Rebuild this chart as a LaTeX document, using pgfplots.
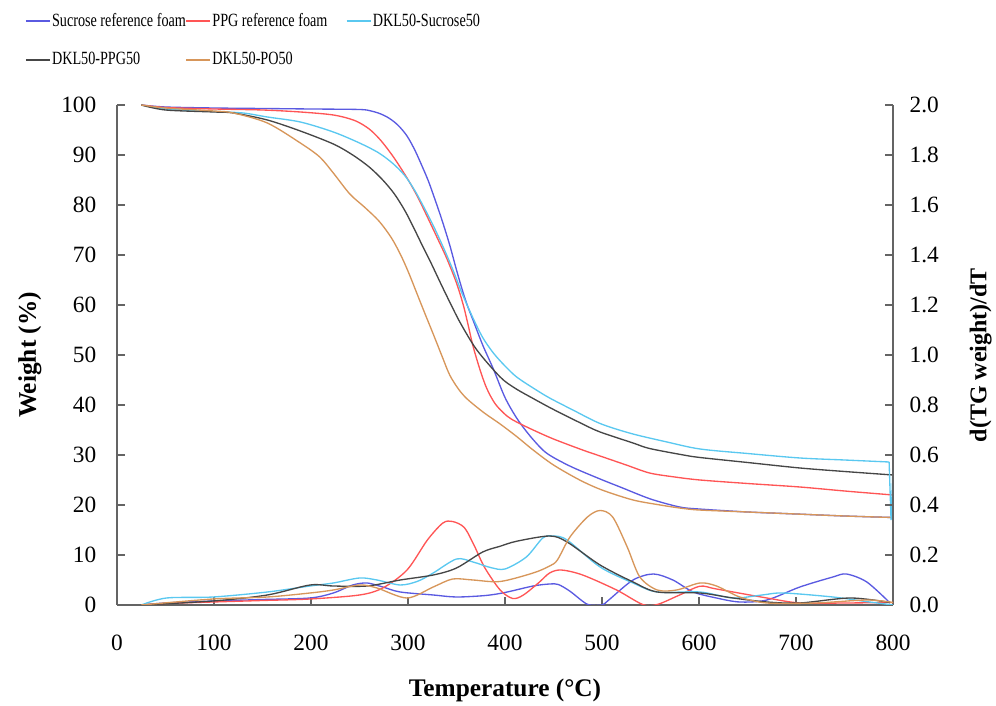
\documentclass[border=0pt]{standalone}
\usepackage{fontspec}
\setmainfont{Liberation Serif}
\newfontfamily\legfont[FakeStretch=0.76]{Liberation Serif}
\usepackage{pgfplots}
\pgfplotsset{compat=1.18}
\definecolor{cBlue}{RGB}{90,90,225}
\definecolor{cRed}{RGB}{255,85,85}
\definecolor{cCyan}{RGB}{90,200,240}
\definecolor{cBlack}{RGB}{70,70,70}
\definecolor{cOrange}{RGB}{215,150,90}
\definecolor{cAxis}{RGB}{100,100,100}
\pgfplotsset{
  commonax/.style={
    at={(0pt,0pt)}, anchor=south west,
    scale only axis, width=582pt, height=375pt,
    xmin=0, xmax=800,
    axis line style={draw=cAxis, line width=1.1pt},
    tick style={cAxis, line width=1pt},
    major tick length=6pt,
    ticklabel style={font=\fontsize{17.5}{20}\selectfont},
    /pgf/number format/assume math mode=true,
    label style={font=\bfseries\fontsize{19}{22}\selectfont},
  }
}
\begin{document}
\begin{tikzpicture}
\path[use as bounding box] (-87.75pt,-75.75pt) rectangle (659.25pt,453.75pt);
\begin{axis}[
  commonax,
  ymin=0, ymax=100,
  axis y line*=left, axis x line*=bottom,
  tick align=inside,
  xtick={0,100,200,300,400,500,600,700,800},
  ytick={0,10,20,30,40,50,60,70,80,90,100},
  xticklabel style={yshift=-19pt},
  yticklabel style={xshift=-12pt},
  xlabel={Temperature (°C)}, ylabel={Weight (\%)},
  xlabel style={at={(axis description cs:0.5,-0.17)}, anchor=center},
  ylabel style={at={(axis description cs:-0.1121,0.5)}, anchor=center},
  legend columns=3,
  legend cell align=left,
  legend style={at={(axis description cs:-0.1186,1.186)}, anchor=north west,
    draw=none, fill=none, inner sep=0pt, outer sep=0pt,
    row sep=16pt, column sep=0pt,
    font=\legfont\fontsize{14}{16}\selectfont,
    nodes={inner sep=1pt}},
  legend image code/.code={\draw[#1, line width=1.3pt] (0pt,0pt) -- (18pt,0pt);},
  every axis plot/.append style={line width=1pt},
]
\addplot[cBlue, smooth] coordinates {
(25,100) (50,99.6) (100,99.4) (150,99.3) (200,99.2) (250,99.1) (262,98.8) (272,98.2) (281,97.3) (290,95.9) (299,93.8) (307,91) (314,88) (321,84.8) (328,81) (335,77) (343,72) (350,67) (356,63) (361,60) (367,57) (377,52) (388,47.2) (400,41.5) (412,37.4) (425,34) (439,31) (450,29.5) (470,27.5) (498,25.2) (520,23.5) (550,21.2) (580,19.6) (600,19.2) (650,18.6) (700,18.2) (750,17.8) (800,17.5)};
\addlegendentry{\makebox[99pt][l]{Sucrose reference foam}}
\addplot[cRed, smooth] coordinates {
(25,100) (50,99.5) (100,99.2) (150,99) (189,98.6) (223,98) (245,96.9) (260,95.2) (272,92.9) (285,89.6) (299,85.4) (310,81.6) (320,77.6) (330,73.5) (340,69.3) (350,64.4) (357,60) (362,56) (367,51.8) (374,47.2) (381,43.4) (390,40.2) (402,37.8) (412,36.6) (429,35) (450,33.2) (480,31) (498,29.8) (525,28) (549,26.4) (575,25.6) (601,25) (650,24.3) (704,23.6) (750,22.8) (800,22)};
\addlegendentry{\makebox[99pt][l]{PPG reference foam}}
\addplot[cCyan, smooth] coordinates {
(25,100) (50,99.2) (100,98.7) (130,98.4) (155,97.6) (189,96.6) (223,94.6) (250,92.4) (270,90.4) (285,88.2) (297,85.8) (307,82.9) (316,79.7) (325,76.3) (333,73) (341,69.5) (348,66.2) (356,62.2) (367,57.4) (377,53.5) (388,50.4) (400,47.8) (412,45.6) (429,43.4) (446,41.4) (470,39) (498,36.3) (530,34.3) (567,32.6) (601,31.2) (650,30.3) (704,29.4) (750,29) (796,28.6)};
\addlegendentry{\makebox[99pt][l]{DKL50-Sucrose50}}
\addplot[cBlack, smooth] coordinates {
(25,100) (50,99) (100,98.6) (120,98.4) (155,97) (189,94.8) (223,92.2) (243,90) (260,87.6) (274,85) (286,82.2) (297,78.8) (306,75.4) (315,71.8) (324,68.3) (333,64.6) (343,60.6) (354,56.4) (371,51) (395,45.6) (410,43.4) (429,41.3) (450,39.1) (480,36.2) (498,34.6) (532,32.4) (549,31.3) (584,30) (601,29.5) (650,28.5) (704,27.4) (750,26.7) (800,26)};
\addlegendentry{\makebox[99pt][l]{DKL50-PPG50}}
\addplot[cOrange, smooth] coordinates {
(25,100) (50,99.4) (100,98.8) (120,98.4) (155,96.4) (189,92.4) (209,89.6) (223,86.4) (240,82.2) (255,79.6) (270,76.8) (283,73.4) (293,69.8) (301,66.3) (309,62.4) (317,58.5) (326,54.2) (335,49.8) (343,46) (352,43.2) (361,41.2) (378,38.5) (395,36.2) (412,33.7) (429,31) (450,28) (477,25) (500,23) (532,21) (560,20) (580,19.4) (600,19) (650,18.6) (700,18.2) (750,17.8) (800,17.5)};
\addlegendentry{\makebox[99pt][l]{DKL50-PO50}}
\addplot[cCyan, forget plot] coordinates {(796,28.6) (798,17) (800,27.5)};
\end{axis}
\begin{axis}[
  commonax,
  ymin=0, ymax=2,
  axis y line*=right, axis x line=none,
  tick align=inside,
  ytick={0,0.2,0.4,0.6,0.8,1.0,1.2,1.4,1.6,1.8,2.0},
  yticklabel style={/pgf/number format/.cd, fixed, fixed zerofill, precision=1, /tikz/.cd, xshift=9pt},
  ylabel={d(TG weight)/dT},
  ylabel style={at={(axis description cs:1.113,0.5)}, anchor=center, font=\bfseries\fontsize{18}{20}\selectfont},
  every axis plot/.append style={line width=1pt},
]
\addplot[cBlue, smooth] coordinates {
(25,0) (50,0.008) (99,0.016) (150,0.022) (199,0.028) (223,0.048) (243,0.08) (258,0.088) (274,0.072) (292,0.052) (326,0.04) (350,0.032) (380,0.038) (400,0.05) (429,0.076) (446,0.084) (455,0.082) (467,0.055) (480,0.015) (487,0) (500,0) (507,0.02) (532,0.1) (553,0.124) (573,0.1) (594,0.052) (618,0.028) (642,0.012) (670,0.02) (704,0.072) (738,0.112) (752,0.124) (773,0.092) (797,0.008)};
\addplot[cRed, smooth] coordinates {
(25,0) (50,0.006) (99,0.012) (150,0.018) (199,0.024) (250,0.04) (274,0.068) (299,0.14) (320,0.26) (336,0.328) (346,0.334) (358,0.31) (368,0.24) (379,0.15) (395,0.06) (408,0.026) (419,0.04) (435,0.09) (446,0.128) (458,0.14) (480,0.12) (515,0.06) (542,0.002) (557,0.002) (580,0.04) (601,0.075) (618,0.064) (670,0.028) (704,0.008) (750,0.008) (800,0.01)};
\addplot[cCyan, smooth] coordinates {
(25,0) (51,0.028) (99,0.032) (155,0.052) (199,0.076) (223,0.088) (250,0.108) (268,0.1) (292,0.08) (310,0.095) (326,0.128) (350,0.184) (367,0.172) (385,0.15) (400,0.144) (422,0.192) (439,0.268) (450,0.276) (464,0.26) (498,0.152) (532,0.088) (557,0.052) (601,0.052) (635,0.028) (665,0.04) (687,0.048) (738,0.032) (770,0.015) (800,0)};
\addplot[cBlack, smooth] coordinates {
(25,0) (99,0.016) (155,0.04) (199,0.08) (223,0.076) (258,0.076) (292,0.1) (326,0.12) (350,0.148) (377,0.212) (395,0.235) (412,0.255) (446,0.276) (464,0.252) (498,0.16) (532,0.092) (557,0.052) (601,0.048) (635,0.028) (670,0.012) (704,0.008) (756,0.028) (797,0.01)};
\addplot[cOrange, smooth] coordinates {
(25,0) (99,0.024) (155,0.032) (199,0.048) (223,0.06) (250,0.08) (268,0.068) (299,0.028) (326,0.072) (346,0.104) (367,0.1) (395,0.094) (429,0.128) (446,0.156) (454,0.18) (467,0.272) (485,0.352) (498,0.378) (511,0.352) (526,0.232) (539,0.112) (557,0.06) (577,0.06) (601,0.088) (618,0.076) (642,0.032) (670,0.008) (720,0.008) (773,0.02) (800,0.01)};
\end{axis}
\end{tikzpicture}
\end{document}
